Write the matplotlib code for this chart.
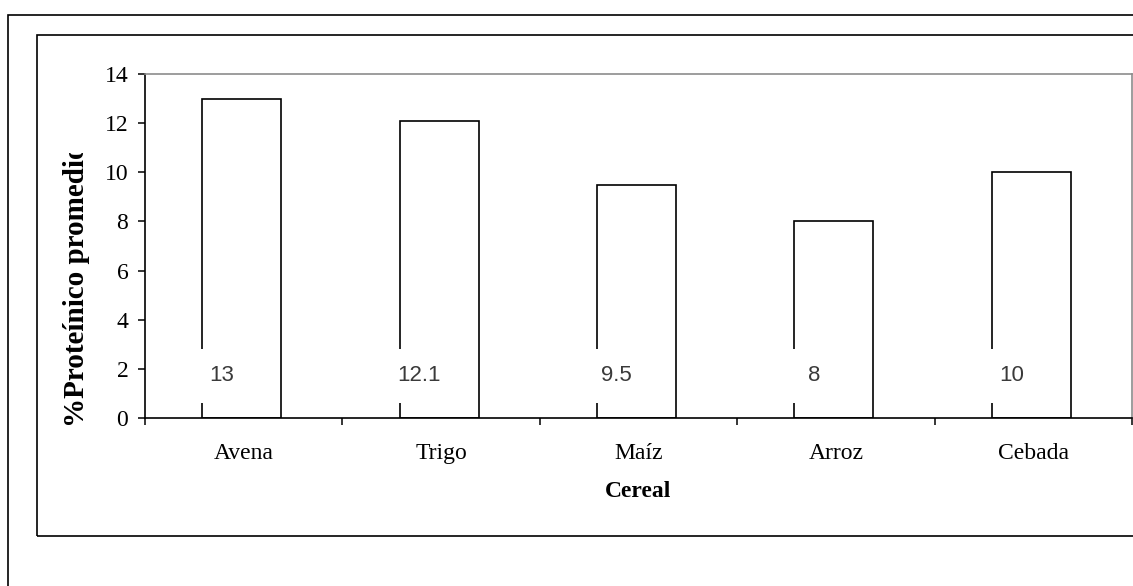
import matplotlib
matplotlib.use("Agg")
import matplotlib.pyplot as plt
from matplotlib.patches import Rectangle
from matplotlib.transforms import Bbox
import numpy as np

CEREALS = ["Avena", "Trigo", "Maíz", "Arroz", "Cebada"]
PROTEIN = [13, 12.1, 9.5, 8, 10]
VALUE_LABELS = ["13", "12.1", "9.5", "8", "10"]
Y_TICKS = [0, 2, 4, 6, 8, 10, 12, 14]

W, H = 1133, 586
SERIF = ["Liberation Serif", "DejaVu Serif"]


def px(x, y):
    # pixel coords from top-left -> figure fraction
    return x / W, 1 - y / H


def main():
    fig = plt.figure(figsize=(W / 100, H / 100), dpi=100)

    # outer frames
    x0, y0 = px(8, 15)
    fig.patches.append(Rectangle((x0, -0.1), 1.2, y0 + 0.1, transform=fig.transFigure,
                                 fill=False, ec="black", lw=1.2))
    x1, y1 = px(37, 35)
    _, yb = px(0, 536)
    fig.patches.append(Rectangle((x1, yb), 1.2, y1 - yb, transform=fig.transFigure,
                                 fill=False, ec="black", lw=1.2))

    l, t = px(145, 74)
    r, b = px(1132, 418)
    ax = fig.add_axes([l, b, r - l, t - b])

    x = np.arange(len(CEREALS))
    ax.bar(x - 0.01, PROTEIN, width=0.4, color="white", edgecolor="black", linewidth=1.2, zorder=2)

    ax.set_xlim(-0.5, len(CEREALS) - 0.5)
    ax.set_ylim(0, 14)
    ax.set_yticks(Y_TICKS)
    ax.set_yticklabels([str(v) for v in Y_TICKS], family=SERIF, fontsize=17)
    ax.set_xticks(x)
    ax.set_xticklabels(CEREALS, family=SERIF, fontsize=17)
    ax.set_xticks(np.arange(len(CEREALS) + 1) - 0.5, minor=True)
    ax.tick_params(axis="x", which="major", length=0, pad=18)
    ax.tick_params(axis="x", which="minor", length=5, width=1.1, direction="out")
    ax.tick_params(axis="y", length=5, width=1.1, direction="out", pad=7)

    for side in ["left", "bottom"]:
        ax.spines[side].set_color("black")
        ax.spines[side].set_linewidth(1.2)
    for side in ["top", "right"]:
        ax.spines[side].set_color("#8c8c8c")
        ax.spines[side].set_linewidth(1.2)

    for i, lab in enumerate(VALUE_LABELS):
        ax.text(i - 0.21 + 0.1, 1.72, lab, ha="center", va="center",
                family=["Liberation Sans", "DejaVu Sans"], fontsize=16, color="#3a3a3a",
                bbox=dict(boxstyle="square,pad=0.75", fc="white", ec="none"), zorder=3)

    ax.set_xlabel("Cereal", family=SERIF, fontsize=17, fontweight="bold", labelpad=12)

    # the original label is cut off at its end
    yl = fig.text(77 / W, 1 - 286 / H, "%Proteínico promedio", rotation=90,
                  ha="center", va="center", family=SERIF, fontsize=21, fontweight="bold")
    yl.set_clip_box(Bbox([[0, 0], [W, H - 153]]))
    yl.set_clip_on(True)

    fig.savefig("out.png", dpi=100)


if __name__ == "__main__":
    main()
